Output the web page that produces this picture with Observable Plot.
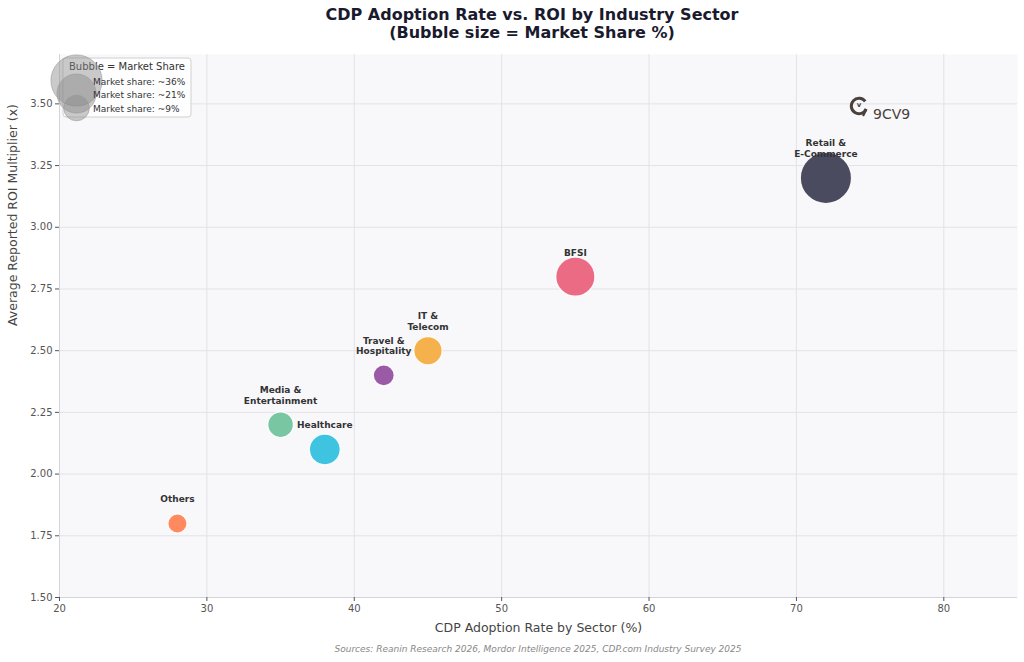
<!DOCTYPE html>
<html>
<head>
<meta charset="utf-8">
<script src="https://cdn.jsdelivr.net/npm/d3@7"></script>
<script src="https://cdn.jsdelivr.net/npm/@observablehq/plot@0.6"></script>
<style>
  body { margin: 0; background: #ffffff; font-family: "DejaVu Sans", sans-serif; }
  #title {
    height: 44px; box-sizing: border-box; padding: 6px 0 0 40px;
    text-align: center; font-weight: bold; font-size: 16px; line-height: 18px; color: #1a1a2e;
  }
  #caption {
    height: 22px; box-sizing: border-box; padding: 0 7px 0 59px;
    text-align: center; font-style: italic; font-size: 9px; line-height: 18px; color: #888888;
  }
  #chart svg { display: block; }
</style>
</head>
<body>
<div id="title">CDP Adoption Rate vs. ROI by Industry Sector<br>(Bubble size = Market Share %)</div>
<div id="chart"></div>
<div id="caption">Sources: Reanin Research 2026, Mordor Intelligence 2025, CDP.com Industry Survey 2025</div>
<script>
// Sector data
const sectors   = ["Retail &\nE-Commerce", "BFSI", "IT &\nTelecom", "Travel &\nHospitality", "Media &\nEntertainment", "Healthcare", "Others"];
const adoption  = [72, 55, 45, 42, 35, 38, 28];               // CDP adoption rate (%)
const roi       = [3.20, 2.80, 2.50, 2.40, 2.20, 2.10, 1.80]; // average ROI multiplier
const share     = [36, 21, 11, 6, 9, 13, 5];                  // market share (%)
const colors    = ["#4b4b60", "#ec6b84", "#f5b24c", "#9b5aa6", "#78c7a2", "#3ec3e1", "#ff8a5f"];

// Size legend entries
const legendShares = [36, 21, 9];
const legendLabels = ["Market share: ~36%", "Market share: ~21%", "Market share: ~9%"];

// Axis ticks
const xTicks = [20, 30, 40, 50, 60, 70, 80];
const yTicks = [1.50, 1.75, 2.00, 2.25, 2.50, 2.75, 3.00, 3.25, 3.50];

const data = sectors.map((s, i) => ({
  sector: s, adoption: adoption[i], roi: roi[i], share: share[i], color: colors[i]
}));

const plot = Plot.plot({
  width: 1024,
  height: 596,
  marginLeft: 59,
  marginRight: 7,
  marginTop: 10,
  marginBottom: 43,
  style: { fontFamily: "DejaVu Sans, sans-serif", background: "#ffffff" },
  x: { domain: [20, 85] },
  y: { domain: [1.5, 3.7] },
  r: { type: "sqrt", domain: [0, 36], range: [0, 25.6] },
  marks: [
    Plot.frame({ fill: "#f8f8fb", stroke: null }),
    Plot.gridX(xTicks, { stroke: "#e2e2e8", strokeOpacity: 1 }),
    Plot.gridY(yTicks, { stroke: "#e2e2e8", strokeOpacity: 1 }),
    Plot.ruleX([20], { stroke: "#d4d4dc" }),
    Plot.ruleY([1.5], { stroke: "#d4d4dc" }),
    Plot.axisX(xTicks, { tickSize: 4, tickPadding: 3, fontSize: 10, color: "#555555", label: null }),
    Plot.axisY(yTicks, { tickSize: 4, tickPadding: 3, fontSize: 10, color: "#555555", label: null, tickFormat: d3.format(".2f") }),
    Plot.text(["CDP Adoption Rate by Sector (%)"], { frameAnchor: "bottom", dy: 34, fontSize: 12.5, fill: "#444444" }),
    Plot.text(["Average Reported ROI Multiplier (x)"], { frameAnchor: "left", dx: -47, rotate: -90, fontSize: 12.5, fill: "#444444" }),
    Plot.dot(data, {
      x: "adoption", y: "roi", r: "share", fill: "color",
      stroke: "white", strokeWidth: 1.2, strokeOpacity: 0.9
    }),
    Plot.text(data, {
      x: "adoption", y: "roi", text: "sector",
      lineAnchor: "bottom", dy: -21, lineHeight: 1.2,
      fontSize: 9, fontWeight: "bold", fill: "#333333"
    })
  ]
});

document.getElementById("chart").append(plot);

// Overlays: size legend and brand mark
const svg = d3.select(plot);
const rScale = plot.scale("r");

const leg = svg.append("g").attr("text-anchor", "start");
leg.append("rect")
  .attr("x", 63).attr("y", 14).attr("width", 128).attr("height", 59).attr("rx", 3)
  .attr("fill", "#ffffff").attr("fill-opacity", 0.85).attr("stroke", "#d0d0d0");
leg.append("text")
  .attr("x", 127).attr("y", 22).attr("dy", "0.35em").attr("text-anchor", "middle")
  .attr("font-size", 10).attr("fill", "#333333").text("Bubble = Market Share");
const rowY = [37.5, 50.5, 65];
legendShares.forEach((s, i) => {
  leg.append("circle")
    .attr("cx", 76.5).attr("cy", rowY[i] - 1).attr("r", rScale.apply(s))
    .attr("fill", "#8a8a8a").attr("fill-opacity", 0.45)
    .attr("stroke", "#9a9a9a").attr("stroke-opacity", 0.6);
  leg.append("text")
    .attr("x", 93).attr("y", rowY[i]).attr("dy", "0.35em").attr("text-anchor", "start")
    .attr("font-size", 9).attr("fill", "#333333").text(legendLabels[i]);
});

const brand = svg.append("g").attr("transform", "translate(859,62)");
brand.append("path")
  .attr("d", d3.arc()({ innerRadius: 6.2, outerRadius: 9.2, startAngle: Math.PI * 0.62, endAngle: Math.PI * 2.3 }))
  .attr("fill", "#4a403c");
brand.append("text")
  .attr("x", 0).attr("y", 0).attr("dy", "0.1em").attr("text-anchor", "middle")
  .attr("font-size", 7).attr("font-weight", "bold").attr("fill", "#4a403c").text("v");
brand.append("line")
  .attr("x1", 7).attr("y1", 4).attr("x2", 4).attr("y2", 10)
  .attr("stroke", "#4a403c").attr("stroke-width", 2.2);
brand.append("text")
  .attr("x", 14).attr("y", 13).attr("text-anchor", "start").attr("font-size", 14).attr("font-weight", "normal")
  .attr("fill", "#4a403c").text("9CV9");
</script>
</body>
</html>
